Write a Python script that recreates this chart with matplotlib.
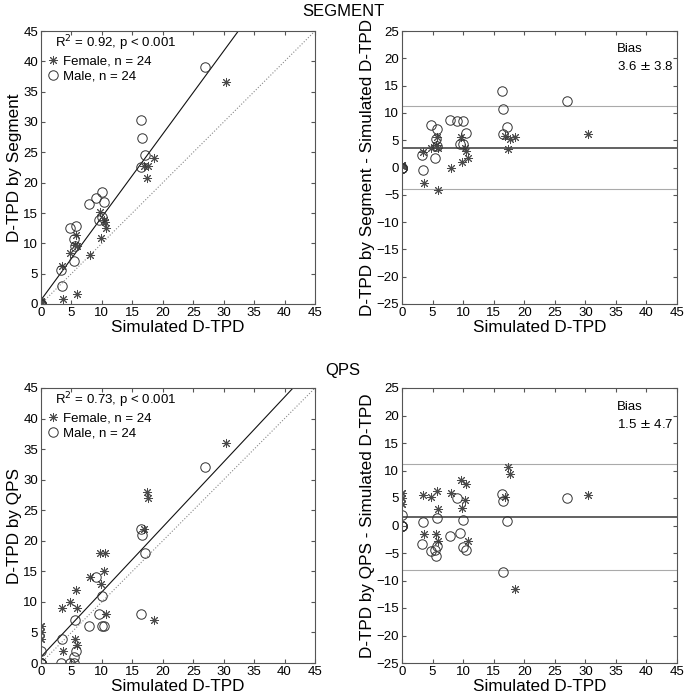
import numpy as np
import matplotlib
matplotlib.use("Agg")
import matplotlib.pyplot as plt
from matplotlib.lines import Line2D

plt.rcParams['font.family'] = ['Liberation Sans', 'DejaVu Sans']

# simulated D-TPD and measured values, female subjects
sim_f = [0, 0, 0, 0, 0, 0, 3.44, 3.55, 4.8, 5.75, 5.95, 5.6, 5.9, 8.0, 9.65,
         9.85, 10.3, 10.5, 10.75, 16.9, 17.4, 17.65, 18.5, 30.4]
seg_f = [0.5, 0.4, 0.3, 0.5, 0.4, 0.3, 6.3, 0.8, 8.4, 11.4, 9.6, 9.7, 1.7, 8.0, 15.2,
         10.9, 13.8, 13.5, 12.5, 22.7, 20.7, 22.8, 24.1, 36.6]
qps_f = [6, 5, 4, 6, 5, 4, 9, 2, 10, 12, 9, 4, 3, 14, 18,
         13, 15, 18, 8, 22, 28, 27, 7, 36]

# male subjects
sim_m = [0, 0, 0, 0, 0, 0, 3.3, 3.45, 4.7, 5.5, 5.45, 5.7, 5.65, 7.85, 9.05,
         9.45, 10.05, 9.95, 10.4, 16.35, 16.45, 16.55, 17.15, 27.0]
seg_m = [0, 0, 0, 0, 0, 0, 5.6, 3.0, 12.5, 10.7, 7.1, 12.8, 9.5, 16.5, 17.5,
         13.8, 18.5, 14.3, 16.8, 30.4, 22.5, 27.3, 24.6, 39.1]
qps_m = [0, 2, 0, 0, 0, 0, 0, 4, 0, 0, 1, 2, 7, 6, 14,
         8, 11, 6, 6, 22, 8, 21, 18, 32]

# fitted lines and agreement stats
fit_seg = (1.368, 0.66)   # slope, intercept
fit_qps = (1.063, 1.0)
r2_seg, r2_qps = 0.92, 0.73
bias_seg, sd_seg, loa_seg = 3.6, 3.8, (-4.0, 11.3)
bias_qps, sd_qps, loa_qps = 1.5, 4.7, (-8.0, 11.1)

W, H = 685, 698
fig = plt.figure(figsize=(W / 100, H / 100), dpi=100)

star = dict(marker=(8, 2, 0), ms=6.5, mec='#4a4a4a', mew=0.7, ls='none')
circ = dict(marker='o', ms=6.8, mfc='none', mec='#333333', mew=0.7, ls='none')


def style(ax, ylim, yticks):
    ax.set_xlim(0, 45)
    ax.set_ylim(*ylim)
    ax.set_xticks(range(0, 46, 5))
    ax.set_yticks(yticks)
    ax.tick_params(direction='in', top=True, right=True, length=3,
                   labelsize=9.5, pad=2, color='#555555')
    for s in ax.spines.values():
        s.set_color('#555555')
        s.set_linewidth(0.8)
    ax.set_xlabel('Simulated D-TPD', fontsize=12.3, labelpad=1)


def scatter_panel(ax, meas_f, meas_m, fit, r2, name):
    x = np.array([0, 45])
    ax.plot(x, x, ls=':', color='#888888', lw=0.8)
    ax.plot(x, fit[0] * x + fit[1], color='#111111', lw=0.8)
    ax.plot(sim_f, meas_f, **star)
    ax.plot(sim_m, meas_m, **circ)
    style(ax, (0, 45), range(0, 46, 5))
    ax.set_ylabel('D-TPD by ' + name, fontsize=12.3, labelpad=1)
    ax.text(0.05, 0.955, 'R$^2$ = %.2f, p < 0.001' % r2, transform=ax.transAxes,
            fontsize=9.5, va='center')
    handles = [Line2D([], [], **star), Line2D([], [], **circ)]
    ax.legend(handles, ['Female, n = 24', 'Male, n = 24'], loc='upper left',
              bbox_to_anchor=(-0.005, 0.94), frameon=False, fontsize=9.5,
              handlelength=0.9, handletextpad=0.25, labelspacing=0.2,
              borderaxespad=0.2)


def ba_panel(ax, meas_f, meas_m, bias, sd, loa, name):
    ax.axhline(loa[0], color='#aaaaaa', lw=0.8)
    ax.axhline(loa[1], color='#aaaaaa', lw=0.8)
    ax.axhline(bias, color='#555555', lw=1.3)
    ax.plot(sim_f, np.array(meas_f) - np.array(sim_f), **star)
    ax.plot(sim_m, np.array(meas_m) - np.array(sim_m), **circ)
    style(ax, (-25, 25), range(-25, 26, 5))
    ax.set_ylabel('D-TPD by %s - Simulated D-TPD' % name, fontsize=12.3, labelpad=1)
    ax.text(0.783, 0.9, 'Bias\n%.1f $\\pm$ %.1f' % (bias, sd), transform=ax.transAxes,
            fontsize=9.5, va='center', linespacing=1.5)


def box(l, t, r, b):
    return [l / W, 1 - b / H, (r - l) / W, (b - t) / H]


ax1 = fig.add_axes(box(41, 31, 315, 304))
ax2 = fig.add_axes(box(402, 31, 677, 304))
ax3 = fig.add_axes(box(41, 388, 315, 663))
ax4 = fig.add_axes(box(402, 388, 677, 663))

scatter_panel(ax1, seg_f, seg_m, fit_seg, r2_seg, 'Segment')
ba_panel(ax2, seg_f, seg_m, bias_seg, sd_seg, loa_seg, 'Segment')
scatter_panel(ax3, qps_f, qps_m, fit_qps, r2_qps, 'QPS')
ba_panel(ax4, qps_f, qps_m, bias_qps, sd_qps, loa_qps, 'QPS')

fig.text(343 / W, 1 - 12 / H, 'SEGMENT', ha='center', va='center', fontsize=12)
fig.text(343 / W, 1 - 370 / H, 'QPS', ha='center', va='center', fontsize=12)

fig.savefig('out.png', dpi=100)
